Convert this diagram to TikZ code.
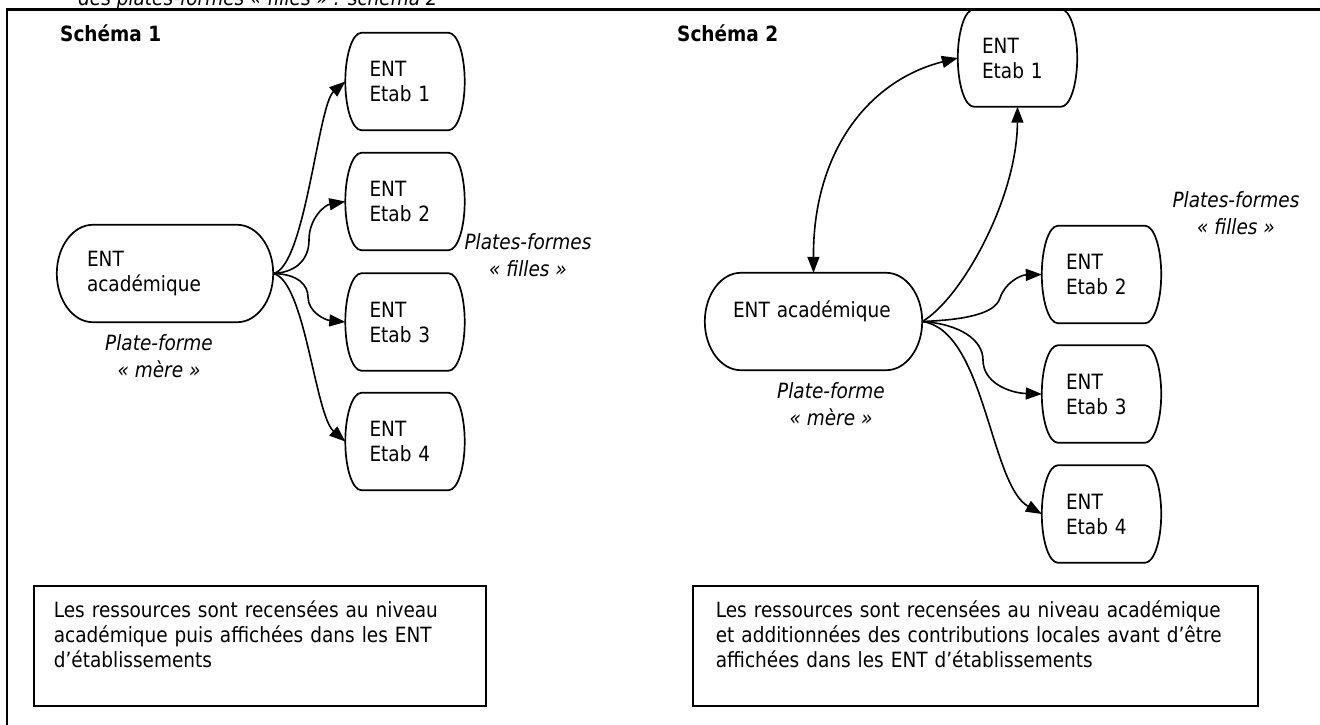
\documentclass[tikz,border=0pt]{standalone}
\usepackage{fontspec}
\setmainfont{DejaVu Sans}[FakeStretch=0.88]
\usetikzlibrary{calc,arrows.meta}
\newcommand\stadiumoutline[2]{%
 \draw[outline] ($(#1.north west)+(#2,0)$) -- ($(#1.north east)+(-#2,0)$)
  .. controls ($(#1.north east)+(-0.45*#2,0)$) and ($(#1.north east)!0.45!(#1.east)$) .. (#1.east)
  .. controls ($(#1.south east)!0.45!(#1.east)$) and ($(#1.south east)+(-0.45*#2,0)$) .. ($(#1.south east)+(-#2,0)$)
  -- ($(#1.south west)+(#2,0)$)
  .. controls ($(#1.south west)+(0.45*#2,0)$) and ($(#1.south west)!0.45!(#1.west)$) .. (#1.west)
  .. controls ($(#1.north west)!0.45!(#1.west)$) and ($(#1.north west)+(0.45*#2,0)$) .. cycle;}
\tikzset{
 lbl/.style={font=\fontsize{21}{25}\selectfont, inner sep=0pt},
 stadium/.style={lbl, draw=none, minimum height=97pt, align=left},
 etab/.style={stadium, text width=71pt, inner xsep=24pt},
 acadbox/.style={stadium, text width=156pt, inner xsep=30pt},
 acadboxb/.style={stadium, text width=161pt, inner xsep=28pt},
 outline/.style={line width=1.7pt, black},
 tip/.style={},
 conn/.style={line width=1.6pt, -{Triangle[length=16pt,width=12pt]}},
 conntwo/.style={line width=1.6pt, {Triangle[length=16pt,width=12pt]}-{Triangle[length=16pt,width=12pt]}},
 note/.style={lbl, draw, line width=1.7pt, anchor=north west, align=left, inner ysep=0pt, text height=32pt, text depth=88pt},
 ital/.style={lbl, align=center, font=\fontsize{21}{27}\selectfont\itshape},
 heading/.style={lbl, anchor=west, font=\fontsize{21}{25}\selectfont\bfseries}
}
\begin{document}
\begin{tikzpicture}[x=1pt,y=-1pt]
\useasboundingbox (0,0) rectangle (1320,724);
\fill[white] (0,0) rectangle (1320,724);
% clipped caption line above the frame
\node[lbl, anchor=base west, font=\fontsize{21}{25}\selectfont\itshape] (cap) at (78,5) {des plates-formes «~filles~» : schéma 2};
% outer frame
\draw[line width=2.4pt] (7,760) -- (7,9.5) -- (1340,9.5);

% ---------- Schema 1 ----------
\node[heading] (h1) at (60,33) {Schéma 1};
\node[acadbox] (a1) at (165,273.5) {ENT\\académique};
\stadiumoutline{a1}{36}
\node[etab] (e11) at (405,81.5) {ENT\\Etab 1};
\node[etab] (e12) at (405,201.5) {ENT\\Etab 2};
\node[etab] (e13) at (405,322) {ENT\\Etab 3};
\node[etab] (e14) at (405,441.5) {ENT\\Etab 4};
\foreach \n in {e11,e12,e13,e14} {\stadiumoutline{\n}{16}}
\node[ital] (m1) at (159,356) {Plate-forme\\«~mère~»};
\node[ital] (f1) at (528,255) {Plates-formes\\«~filles~»};
\draw[conn] (a1.east) .. controls (305,268) and (318,105) .. (e11.west);
\draw[conn] (a1.east) .. controls (300,272) and (309,256) .. (309,240) .. controls (309,218) and (325,205) .. (e12.west);
\draw[conn] (a1.east) .. controls (298,274) and (308,285) .. (308,297) .. controls (308,312) and (325,320) .. (e13.west);
\draw[conn] (a1.east) .. controls (305,280) and (315,415) .. (e14.west);
\node[note, text width=412pt, inner xsep=20pt] (n1) at (33,585)
 {\mbox{Les ressources sont recensées au niveau}\\\mbox{académique puis affichées dans les ENT}\\\mbox{d’établissements}};

% ---------- Schema 2 ----------
\node[heading] (h2) at (677,33) {Schéma 2};
\node[acadboxb] (a2) at (813.5,321.5) {ENT académique\\\mbox{}};
\stadiumoutline{a2}{36}
\node[etab] (e21) at (1017.5,58) {ENT\\Etab 1};
\node[etab] (e22) at (1101.5,274.5) {ENT\\Etab 2};
\node[etab] (e23) at (1101.5,394) {ENT\\Etab 3};
\node[etab] (e24) at (1101.5,514) {ENT\\Etab 4};
\foreach \n in {e21,e22,e23,e24} {\stadiumoutline{\n}{16}}
\node[ital] (m2) at (831,404) {Plate-forme\\«~mère~»};
\node[ital] (f2) at (1236,213) {Plates-formes\\«~filles~»};
\draw[conntwo] (a2.north) .. controls (813,150) and (870,80) .. (e21.west);
\draw[conn] (a2.east) .. controls (960,300) and (1017,200) .. (e21.south);
\draw[conn] (a2.east) .. controls (960,320) and (995,315) .. (1000,298) .. controls (1005,283) and (1020,275) .. (e22.west);
\draw[conn] (a2.east) .. controls (960,324) and (983,340) .. (983,360) .. controls (983,383) and (1010,393) .. (e23.west);
\draw[conn] (a2.east) .. controls (985,330) and (990,485) .. (e24.west);
\node[note, text width=519pt, inner xsep=23pt] (n2) at (692,585)
 {\mbox{Les ressources sont recensées au niveau académique}\\\mbox{et additionnées des contributions locales avant d’être}\\\mbox{affichées dans les ENT d’établissements}};
\end{tikzpicture}
\end{document}
